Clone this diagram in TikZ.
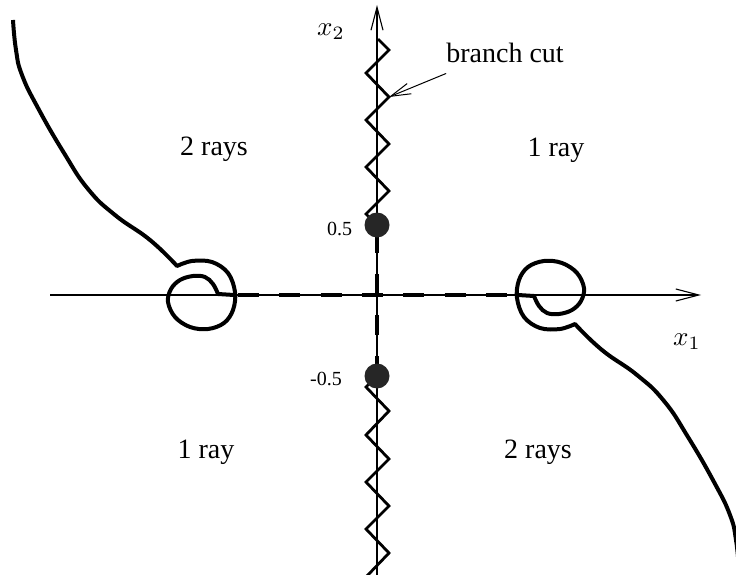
\documentclass[tikz,border=0pt]{standalone}
\usepackage{graphicx}
\usepackage{fontspec}
\setmainfont{Liberation Serif}
\usetikzlibrary{arrows.meta}
\begin{document}
\begin{tikzpicture}[x=1pt,y=-1pt,
  lab/.style={font=\fontsize{28}{30}\selectfont, inner sep=0pt},
  smalllab/.style={font=\fontsize{20}{22}\selectfont, inner sep=0pt},
  mathlab/.style={font=\fontsize{10}{12}\selectfont, inner sep=0pt},
  axisline/.style={line width=1.1pt, -{Straight Barb[length=23pt,width=12pt]}},
  curve/.style={line width=4pt, line join=round},
  zig/.style={line width=2.8pt, line join=miter},
  cutdash/.style={line width=4.5pt},
  pole/.style={circle, fill=black!85, minimum size=25pt, inner sep=0pt},
  loopcurve/.pic={
    \draw[curve] plot[smooth, tension=0.8] coordinates {(13,20) (16,50) (22,75) (38,108) (64,153) (88,189) (115,215) (150,240) (177,266)}
      -- plot[smooth, tension=0.6] coordinates {(177,266) (192,261) (212,262) (228,273) (235,292) (233,310) (224,323) (208,329) (190,327) (175,317) (168,302) (171,289) (180,280) (193,276) (205,277) (213,284) (218,294)}
      -- (234,295);
  }]
\useasboundingbox (0,0) rectangle (736,575);
\clip (0,0) rectangle (736,575);

% axes
\coordinate (O) at (377,295);
\coordinate (xl) at (50,295);
\coordinate (xr) at (701,295);
\coordinate (yb) at (377,585);
\coordinate (yt) at (377,5);
\draw[axisline] (xl) -- (xr);
\draw[axisline] (yb) -- (yt);

% dashed segments
\coordinate (hs) at (238,295);
\coordinate (he) at (507,295);
\coordinate (vs) at (377,233);
\coordinate (ve) at (377,376);
\draw[cutdash, dash pattern=on 21pt off 20.33pt] (hs) -- (he);
\draw[cutdash, dash pattern=on 20pt off 21pt] (vs) -- (ve);

% branch cuts (zigzags)
\coordinate (bc) at (389,97);
\draw[zig] (377,225) -- (366,214) -- (389,191) -- (366,167) -- (389,144) -- (366,120) -- (bc) -- (366,73) -- (389,50) -- (378,39);
\draw[zig] (377,376) -- (366,387) -- (389,411) -- (366,435) -- (389,459) -- (366,482) -- (389,506) -- (366,529) -- (389,553) -- (366,577) -- (389,600);

% poles
\node[pole] (p1) at (377,225) {};
\node[pole] (p2) at (377,376) {};

% spiral curves
\pic at (0,0) {loopcurve};
\pic[rotate=180] at (752,590) {loopcurve};

% labels
\node[mathlab] (x2) at (331,32) {\scalebox{2.7}{$x_2$}};
\node[mathlab] (x1) at (687,342) {\scalebox{2.7}{$x_1$}};
\node[lab, anchor=base] (bclab) at (505,63) {branch cut};
\draw[line width=1pt, -{Straight Barb[length=20pt,width=11pt]}] ([yshift=-10pt]bclab.south west) -- (bc);
\node[lab, anchor=base] (ul) at (214,156) {2 rays};
\node[lab, anchor=base] (ur) at (556,157) {1 ray};
\node[lab, anchor=base] (ll) at (206,458) {1 ray};
\node[lab, anchor=base] (lr) at (538,458) {2 rays};
\node[smalllab, anchor=base west] (h1) at (327,235) {0.5};
\node[smalllab, anchor=base west] (h2) at (310,385) {-0.5};
\end{tikzpicture}
\end{document}
